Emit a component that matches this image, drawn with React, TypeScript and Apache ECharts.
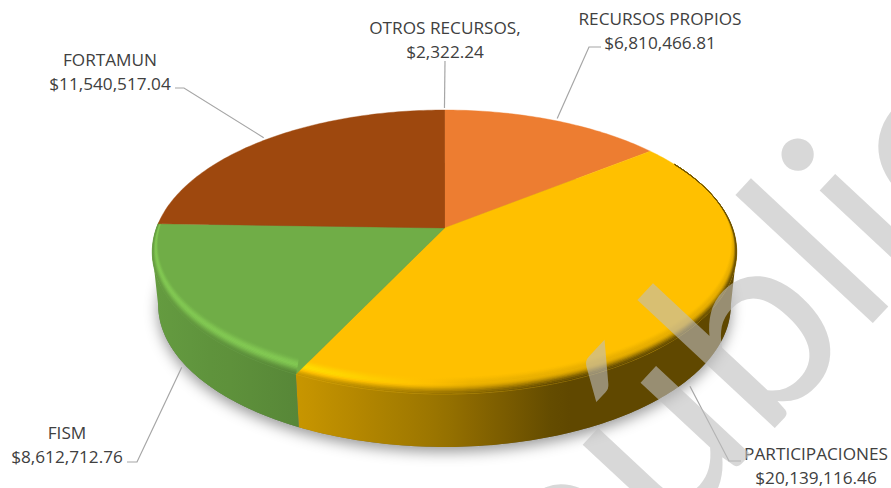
import React, { useEffect, useRef } from "react";
import * as echarts from "echarts";

const categories = ["RECURSOS PROPIOS", "PARTICIPACIONES", "FISM", "FORTAMUN", "OTROS RECURSOS,"];
const values = [6810466.81, 20139116.46, 8612712.76, 11540517.04, 2322.24];
const sliceColors = ["#ED7D31", "#FFC000", "#70AD47", "#9E480E", "#9E480E"];
const watermarkText = "pública";

// layout of the projected disc
const CX = 444.5, CY = 252, A = 288, B = 142, LIFT = 24, P = 0.169;
const WALL = 53, WALL_SCALE = 0.98;
const BEVEL_FROM = 60, BEVEL_TO = 272, BEVEL_LAYERS = 12;
const FONT = '"Open Sans", sans-serif';

// label layout: centre of the text block, leader polyline after its anchor
const labelLayout = [
  { x: 660, y: 30, anchor: "top", dx: 3, dy: -2, elbow: [[589, 47], [601, 47]] },
  { x: 816, y: 465, anchor: "bottom", dx: 0, dy: 8, elbow: [[729, 461], [741, 461]] },
  { x: 67, y: 444, anchor: "bottom", dx: 2, dy: 8, elbow: [[137, 462], [127, 462]] },
  { x: 110, y: 71, anchor: "top", dx: -2, dy: -2, elbow: [[184, 88], [175, 88]] },
  { x: 445, y: 39, anchor: "top", dx: 0, dy: -2, elbow: [[445, 61]] },
];

const total = values.reduce((s, v) => s + v, 0);
const rad = (d: number) => (d * Math.PI) / 180;

function top(theta: number): [number, number] {
  const X = Math.sin(rad(theta)), Y = Math.cos(rad(theta));
  const w = 1 + P * Y;
  return [CX + (A * X) / w, CY - (B * Y + LIFT) / w];
}
function bottom(theta: number): [number, number] {
  const [x, y] = top(theta);
  return [CX + (x - CX) * WALL_SCALE, y + WALL];
}
function inner(theta: number): [number, number] {
  const [x, y] = top(theta);
  const k = Math.min(1, Math.max(0, (theta - BEVEL_FROM) / 40));
  return [x - (x - CX) * 0.02 * k, y - (y - 110) * 0.0634 * k];
}
function arc(fn: (t: number) => [number, number], a: number, b: number): [number, number][] {
  const n = Math.max(1, Math.ceil(Math.abs(b - a)));
  const pts: [number, number][] = [];
  for (let i = 0; i <= n; i++) pts.push(fn(a + ((b - a) * i) / n));
  return pts;
}
function rgb(hex: string): number[] {
  const n = parseInt(hex.slice(1), 16);
  return [(n >> 16) & 255, (n >> 8) & 255, n & 255];
}
const mix = (a: number[], b: number[], t: number) => a.map((v, i) => v + (b[i] - v) * t);
const css = (c: number[]) => `rgb(${c.map((v) => Math.round(Math.min(255, v))).join(",")})`;

const wallShade: number[][] = [[150, 0.9], [300, 0.78], [440, 0.6], [560, 0.375], [740, 0.375]];
function shade(x: number): number {
  for (let i = 1; i < wallShade.length; i++) {
    if (x <= wallShade[i][0]) {
      const [x0, s0] = wallShade[i - 1], [x1, s1] = wallShade[i];
      return s0 + ((s1 - s0) * Math.max(0, x - x0)) / (x1 - x0);
    }
  }
  return 0.375;
}
const smooth = (t: number) => t * t * (3 - 2 * t);
function bevelColor(base: number[], t: number, x: number): number[] {
  const wall = base.map((v) => v * shade(x));
  const h = Math.min(1, Math.max(0, (470 - x) / 170));
  const light = mix(mix(base, wall, 0.15), base.map((v) => v * 1.16), h);
  return t < 0.45 ? mix(base, light, smooth(t / 0.45)) : mix(light, wall, smooth((t - 0.45) / 0.55));
}
function gradient(fn: (x: number) => number[]) {
  const stops = [];
  for (let x = 150; x <= 740; x += 20) stops.push({ offset: (x - 150) / 590, color: css(fn(x)) });
  return new echarts.graphic.LinearGradient(150, 0, 740, 0, stops, true);
}

function money(v: number): string {
  return "$" + v.toLocaleString("en-US", { minimumFractionDigits: 2, maximumFractionDigits: 2 });
}

function renderSlice(params: any, api: any) {
  const i = params.dataIndex;
  const value = api.value(0) as number;
  const before = values.slice(0, i).reduce((s, v) => s + v, 0);
  const start = (before / total) * 360;
  const end = ((before + value) / total) * 360;
  const base = rgb(sliceColors[i]);
  const children: any[] = [];
  const silhouette = (Math.acos(-P) * 180) / Math.PI;

  if (i === 0) {
    children.push({
      type: "polygon",
      shape: { points: arc(bottom, 0, 360) },
      style: { fill: "#777", shadowBlur: 14, shadowOffsetY: 5, shadowColor: "rgba(0,0,0,0.4)" },
    });
  }
  const wa = Math.max(start, silhouette), wb = Math.min(end, 360 - silhouette);
  if (wb > wa) {
    children.push({
      type: "polygon",
      shape: { points: [...arc(top, wa, wb), ...arc(bottom, wb, wa)] },
      style: { fill: gradient((x) => base.map((v) => v * shade(x))) },
    });
  }
  children.push({
    type: "polygon",
    shape: { points: [[CX, CY - LIFT] as [number, number], ...arc(top, start, end)] },
    style: { fill: sliceColors[i], stroke: sliceColors[i], lineWidth: 0.4 },
  });
  const ba = Math.max(start, BEVEL_FROM), bb = Math.min(end, BEVEL_TO);
  if (bb - ba > 1) {
    for (let k = 0; k < BEVEL_LAYERS; k++) {
      const t0 = k / BEVEL_LAYERS, t1 = (k + 1) / BEVEL_LAYERS;
      const at = (t: number) => (th: number): [number, number] => {
        const a = inner(th), b = top(th);
        return [a[0] + (b[0] - a[0]) * t, a[1] + (b[1] - a[1]) * t];
      };
      const fill = gradient((x) => bevelColor(base, (t0 + t1) / 2, x));
      children.push({
        type: "polygon",
        shape: { points: [...arc(at(t0), ba, bb), ...arc(at(t1), bb, ba)] },
        style: { fill, stroke: fill, lineWidth: 0.5 },
      });
    }
  }
  // leader and label
  const mid = (start + end) / 2;
  const layout = labelLayout[i];
  const edge = layout.anchor === "top" ? top(mid) : bottom(mid);
  children.push({
    type: "polyline",
    shape: { points: [[edge[0] + layout.dx, edge[1] + layout.dy], ...layout.elbow] },
    style: { stroke: "#a6a6a6", lineWidth: 1.2, fill: "none" },
  });
  children.push({
    type: "text",
    x: layout.x,
    y: layout.y,
    style: {
      text: `${categories[i]}\n${money(value)}`,
      font: `17.2px ${FONT}`,
      lineHeight: 24,
      fill: "#404040",
      align: "center",
      verticalAlign: "middle",
    },
  });
  return { type: "group", children };
}

export default function App() {
  const ref = useRef<HTMLDivElement>(null);
  useEffect(() => {
    const chart = echarts.init(ref.current!, undefined, { renderer: "svg" });
    chart.setOption({
      animation: false,
      backgroundColor: "#ffffff",
      series: [
        {
          type: "custom",
          coordinateSystem: "none",
          silent: true,
          data: values.map((v, i) => ({ name: categories[i], value: [v] })),
          renderItem: renderSlice,
        },
      ],
      graphic: [
        {
          type: "text",
          x: 589,
          y: 669,
          rotation: rad(47),
          z: 100,
          silent: true,
          style: {
            text: watermarkText,
            font: `255px Lato, sans-serif`,
            fill: "rgba(190,190,190,0.6)",
            align: "left",
            verticalAlign: "bottom",
          },
        },
      ],
    });
    return () => chart.dispose();
  }, []);
  return <div ref={ref} style={{ position: "fixed", left: 0, top: 0, width: 891, height: 488 }} />;
}
